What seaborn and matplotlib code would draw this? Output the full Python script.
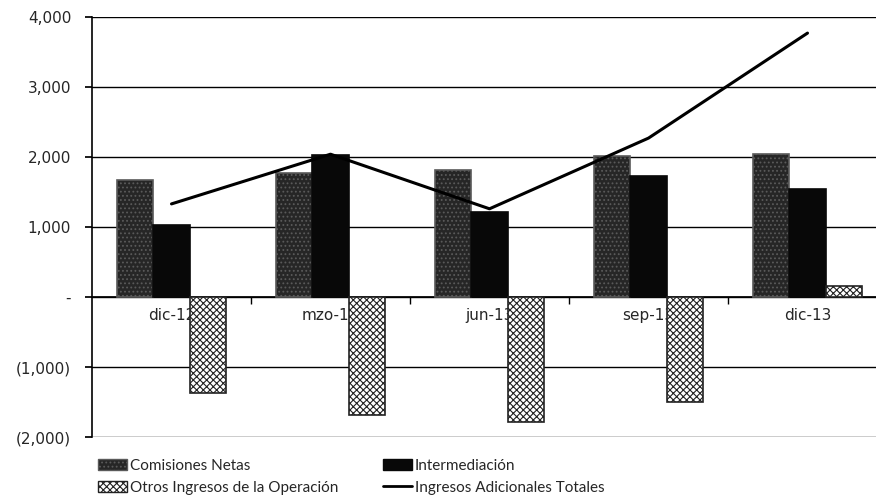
import pandas as pd
import matplotlib.pyplot as plt
import matplotlib.ticker as mticker
from matplotlib.patches import Patch
from matplotlib.lines import Line2D
import seaborn as sns

# Data (millions)
periodos = ["dic-12", "mzo-13", "jun-13", "sep-13", "dic-13"]
comisiones = [1670, 1770, 1810, 2020, 2050]
intermediacion = [1030, 2030, 1210, 1730, 1540]
otros = [-1370, -1690, -1790, -1500, 160]
totales = [1330, 2040, 1260, 2270, 3770]

series = ["Comisiones Netas", "Intermediación", "Otros Ingresos de la Operación"]
line_name = "Ingresos Adicionales Totales"

df = pd.DataFrame({
    "periodo": periodos * 3,
    "serie": [series[0]] * 5 + [series[1]] * 5 + [series[2]] * 5,
    "valor": comisiones + intermediacion + otros,
})

sns.set_theme(style="white")
plt.rcParams["font.family"] = ["DejaVu Sans"]
plt.rcParams["hatch.linewidth"] = 0.8

fig = plt.figure(figsize=(8.76, 5.04), dpi=100)
ax = fig.add_axes([92 / 876, 67 / 504, 795 / 876, 420 / 504])

face = ["#262626", "#080808", "white"]
hatch = ["....", "", "xxxxx"]
hatch_col = ["#5a5a5a", "#080808", "#222222"]

sns.barplot(data=df, x="periodo", y="valor", hue="serie", order=periodos,
            hue_order=series, width=0.68, ax=ax, legend=False, zorder=3)
for k, cont in enumerate(ax.containers):
    for bar in cont:
        bar.set_facecolor(face[k])
        bar.set_hatch(hatch[k])
        bar.set_edgecolor(hatch_col[k])
        bar.set_linewidth(1.2)

sns.lineplot(x=periodos, y=totales, ax=ax, color="black", linewidth=2.2,
             zorder=4, sort=False)

ax.set_ylim(-2000, 4000)
ax.set_xlim(-0.5, 4.5)
ax.set_yticks(range(-2000, 4001, 1000))


def fmt(v, pos):
    if v == 0:
        return "-"
    if v < 0:
        return "({:,.0f})".format(-v)
    return "{:,.0f}".format(v)


ax.yaxis.set_major_formatter(mticker.FuncFormatter(fmt))
ax.yaxis.grid(True, color="black", linewidth=1.0)
ax.set_axisbelow(True)
ax.tick_params(axis="y", length=5, color="black", labelsize=11, pad=10,
               left=True)

# category labels sit on the zero line, ticks at category boundaries
ax.spines["bottom"].set_position(("data", 0))
ax.set_xticks(range(len(periodos)))
ax.set_xticklabels(periodos)
ax.set_xticks([0.5, 1.5, 2.5, 3.5], minor=True)
ax.tick_params(axis="x", which="major", length=0, labelsize=11, pad=8)
ax.tick_params(axis="x", which="minor", length=5, color="black", bottom=True)
for s in ["top", "right"]:
    ax.spines[s].set_visible(False)
ax.spines["left"].set_color("black")
ax.spines["left"].set_linewidth(1.2)
ax.spines["bottom"].set_color("black")
ax.set_xlabel("")
ax.set_ylabel("")

handles = [
    Patch(facecolor=face[0], hatch=hatch[0], edgecolor=hatch_col[0], label=series[0]),
    Patch(facecolor=face[2], hatch=hatch[2], edgecolor=hatch_col[2], label=series[2]),
    Patch(facecolor=face[1], edgecolor=hatch_col[1], label=series[1]),
    Line2D([], [], color="black", linewidth=2, label=line_name),
]
fig.legend(handles=handles, ncol=2, loc="upper left",
           bbox_to_anchor=(98 / 876, 1 - 459 / 504), frameon=False,
           prop={"family": "Lato", "size": 11}, handlelength=1.9,
           handletextpad=0.2, columnspacing=2.9, labelspacing=0.5,
           borderaxespad=0, borderpad=0)

fig.savefig("out.png", dpi=100)
